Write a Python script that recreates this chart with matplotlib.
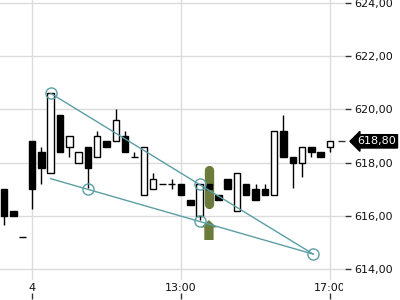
import matplotlib
matplotlib.use("Agg")
import matplotlib.pyplot as plt
import matplotlib.transforms as mtransforms
from matplotlib.patches import FancyArrow

# 15-minute candles, index 0..35 (index 3 = 09:00 on day 4)
opens = [617.0, 616.2, 615.2, 618.8, 618.4, 617.6, 619.8, 618.6, 618.0, 618.6,
         618.2, 618.8, 618.8, 619.0, 618.2, 616.8, 617.0, 617.2, 617.2, 617.2,
         616.6, 616.0, 617.2, 616.8, 617.4, 616.2, 617.2, 617.0, 617.0, 616.8,
         619.2, 618.2, 618.0, 618.6, 618.4, 618.6]
closes = [616.0, 616.0, 615.2, 617.0, 617.8, 620.6, 618.4, 619.0, 618.4, 617.8,
          619.0, 618.6, 619.6, 618.4, 618.2, 618.6, 617.4, 617.2, 617.2, 616.8,
          616.4, 617.2, 617.0, 616.6, 617.0, 617.6, 616.8, 616.6, 616.8, 619.2,
          618.2, 618.0, 618.6, 618.4, 618.2, 618.8]
highs = [617.0, 616.2, 615.2, 618.8, 618.6, 620.6, 619.8, 619.0, 618.4, 618.6,
         619.2, 618.8, 620.0, 619.2, 618.4, 618.6, 617.6, 617.2, 617.4, 617.2,
         616.6, 617.2, 617.2, 616.8, 617.4, 617.6, 617.2, 617.2, 617.2, 619.2,
         619.8, 618.2, 618.6, 618.6, 618.4, 618.8]
lows = [615.65, 616.0, 615.2, 616.25, 617.2, 617.6, 618.4, 618.2, 618.0, 617.05,
        618.2, 618.6, 618.8, 618.4, 618.2, 616.8, 617.0, 617.2, 617.0, 616.8,
        616.4, 615.85, 617.0, 616.6, 617.0, 616.2, 616.8, 616.6, 616.8, 616.8,
        618.2, 617.05, 617.45, 618.2, 618.2, 618.4]

# trend channel
upper_x = [5, 33.2]
upper_y = [620.6, 614.57]
upper_pts_x = [5, 21, 33.2]
upper_pts_y = [620.6, 617.2, 614.57]
lower_x = [5, 33.2]
lower_y = [617.4, 614.57]
lower_pts_x = [9, 21]
lower_pts_y = [617.0, 615.8]

# signal marker
signal_x = 22
signal_bar = [616.46, 617.74]
signal_arrow = [615.1, 615.85]

last_price = 618.8
x_ticks = [3, 19, 35]
x_labels = ["4", "13:00", "17:00"]
y_ticks = [614, 616, 618, 620, 622, 624]
y_labels = ["614,00", "616,00", "618,00", "620,00", "622,00", "624,00"]

teal = "#5b9ea5"
olive = "#6b7b3b"

fig = plt.figure(figsize=(4, 3), dpi=100)
ax = fig.add_axes([0, 20 / 300, 345 / 400, 280 / 300])

x = list(range(len(opens)))
ax.vlines(x, lows, highs, color="black", lw=1, zorder=2)
body_colors = ["white" if c > o else "black" for o, c in zip(opens, closes)]
heights = [c - o for o, c in zip(opens, closes)]
ax.bar(x, heights, bottom=opens, width=0.7, color=body_colors,
       edgecolor="black", linewidth=1, zorder=3)

ax.plot([signal_x, signal_x], signal_bar, color=olive, lw=6.7,
        solid_capstyle="round", zorder=1)
ax.add_patch(FancyArrow(signal_x, signal_arrow[0], 0,
                        signal_arrow[1] - signal_arrow[0], width=1.0,
                        head_width=1.7, head_length=0.28,
                        length_includes_head=True, color=olive, lw=0, zorder=1))

ax.plot(upper_x, upper_y, color=teal, lw=1, zorder=4)
ax.plot(lower_x, lower_y, color=teal, lw=1, zorder=4)
ax.plot(upper_pts_x, upper_pts_y, "o", ms=8, mfc="none", mec=teal, mew=1, zorder=5)
ax.plot(lower_pts_x, lower_pts_y, "o", ms=8, mfc="none", mec=teal, mew=1, zorder=5)

ax.set_xlim(-0.44, 36.61)
ax.set_ylim(613.60, 624.10)
for s in ax.spines.values():
    s.set_visible(False)

ax.set_xticks(x_ticks)
ax.set_xticklabels(x_labels)
ax.set_yticks(y_ticks)
ax.set_yticklabels(y_labels)
ax.set_yticks([last_price], minor=True)
ax.yaxis.tick_right()
ax.tick_params(axis="y", length=4, width=1, color="#333333", pad=3,
               labelsize=8, labelcolor="#111111")
ax.tick_params(axis="y", which="minor", direction="in", length=5, width=1,
               color="#333333")
ax.tick_params(axis="x", length=0, pad=2, labelsize=8, labelcolor="#111111")
ax.grid(True, color="#dcdcdc", lw=1)
ax.set_axisbelow(True)

sec = ax.secondary_xaxis(-0.046)
sec.set_xticks(x_ticks)
sec.tick_params(length=4, width=1, color="#333333", labelbottom=False)
sec.spines["bottom"].set_visible(False)

trans = mtransforms.blended_transform_factory(ax.transAxes, ax.transData)
ax.text(1.035, last_price, "618,80", transform=trans, ha="left", va="center",
        color="white", fontsize=8, clip_on=False,
        bbox=dict(boxstyle="larrow,pad=0.15", fc="black", ec="black"))

# x labels are cut off at the right edge of the plot area
fig.canvas.draw()
clip = mtransforms.TransformedBbox(
    mtransforms.Bbox([[0, 0], [343 / 400, 1]]), fig.transFigure)
for t in ax.xaxis.get_major_ticks():
    t.label1.set_clip_on(True)
    t.label1.set_clip_box(clip)

fig.savefig("out.png", dpi=100)
